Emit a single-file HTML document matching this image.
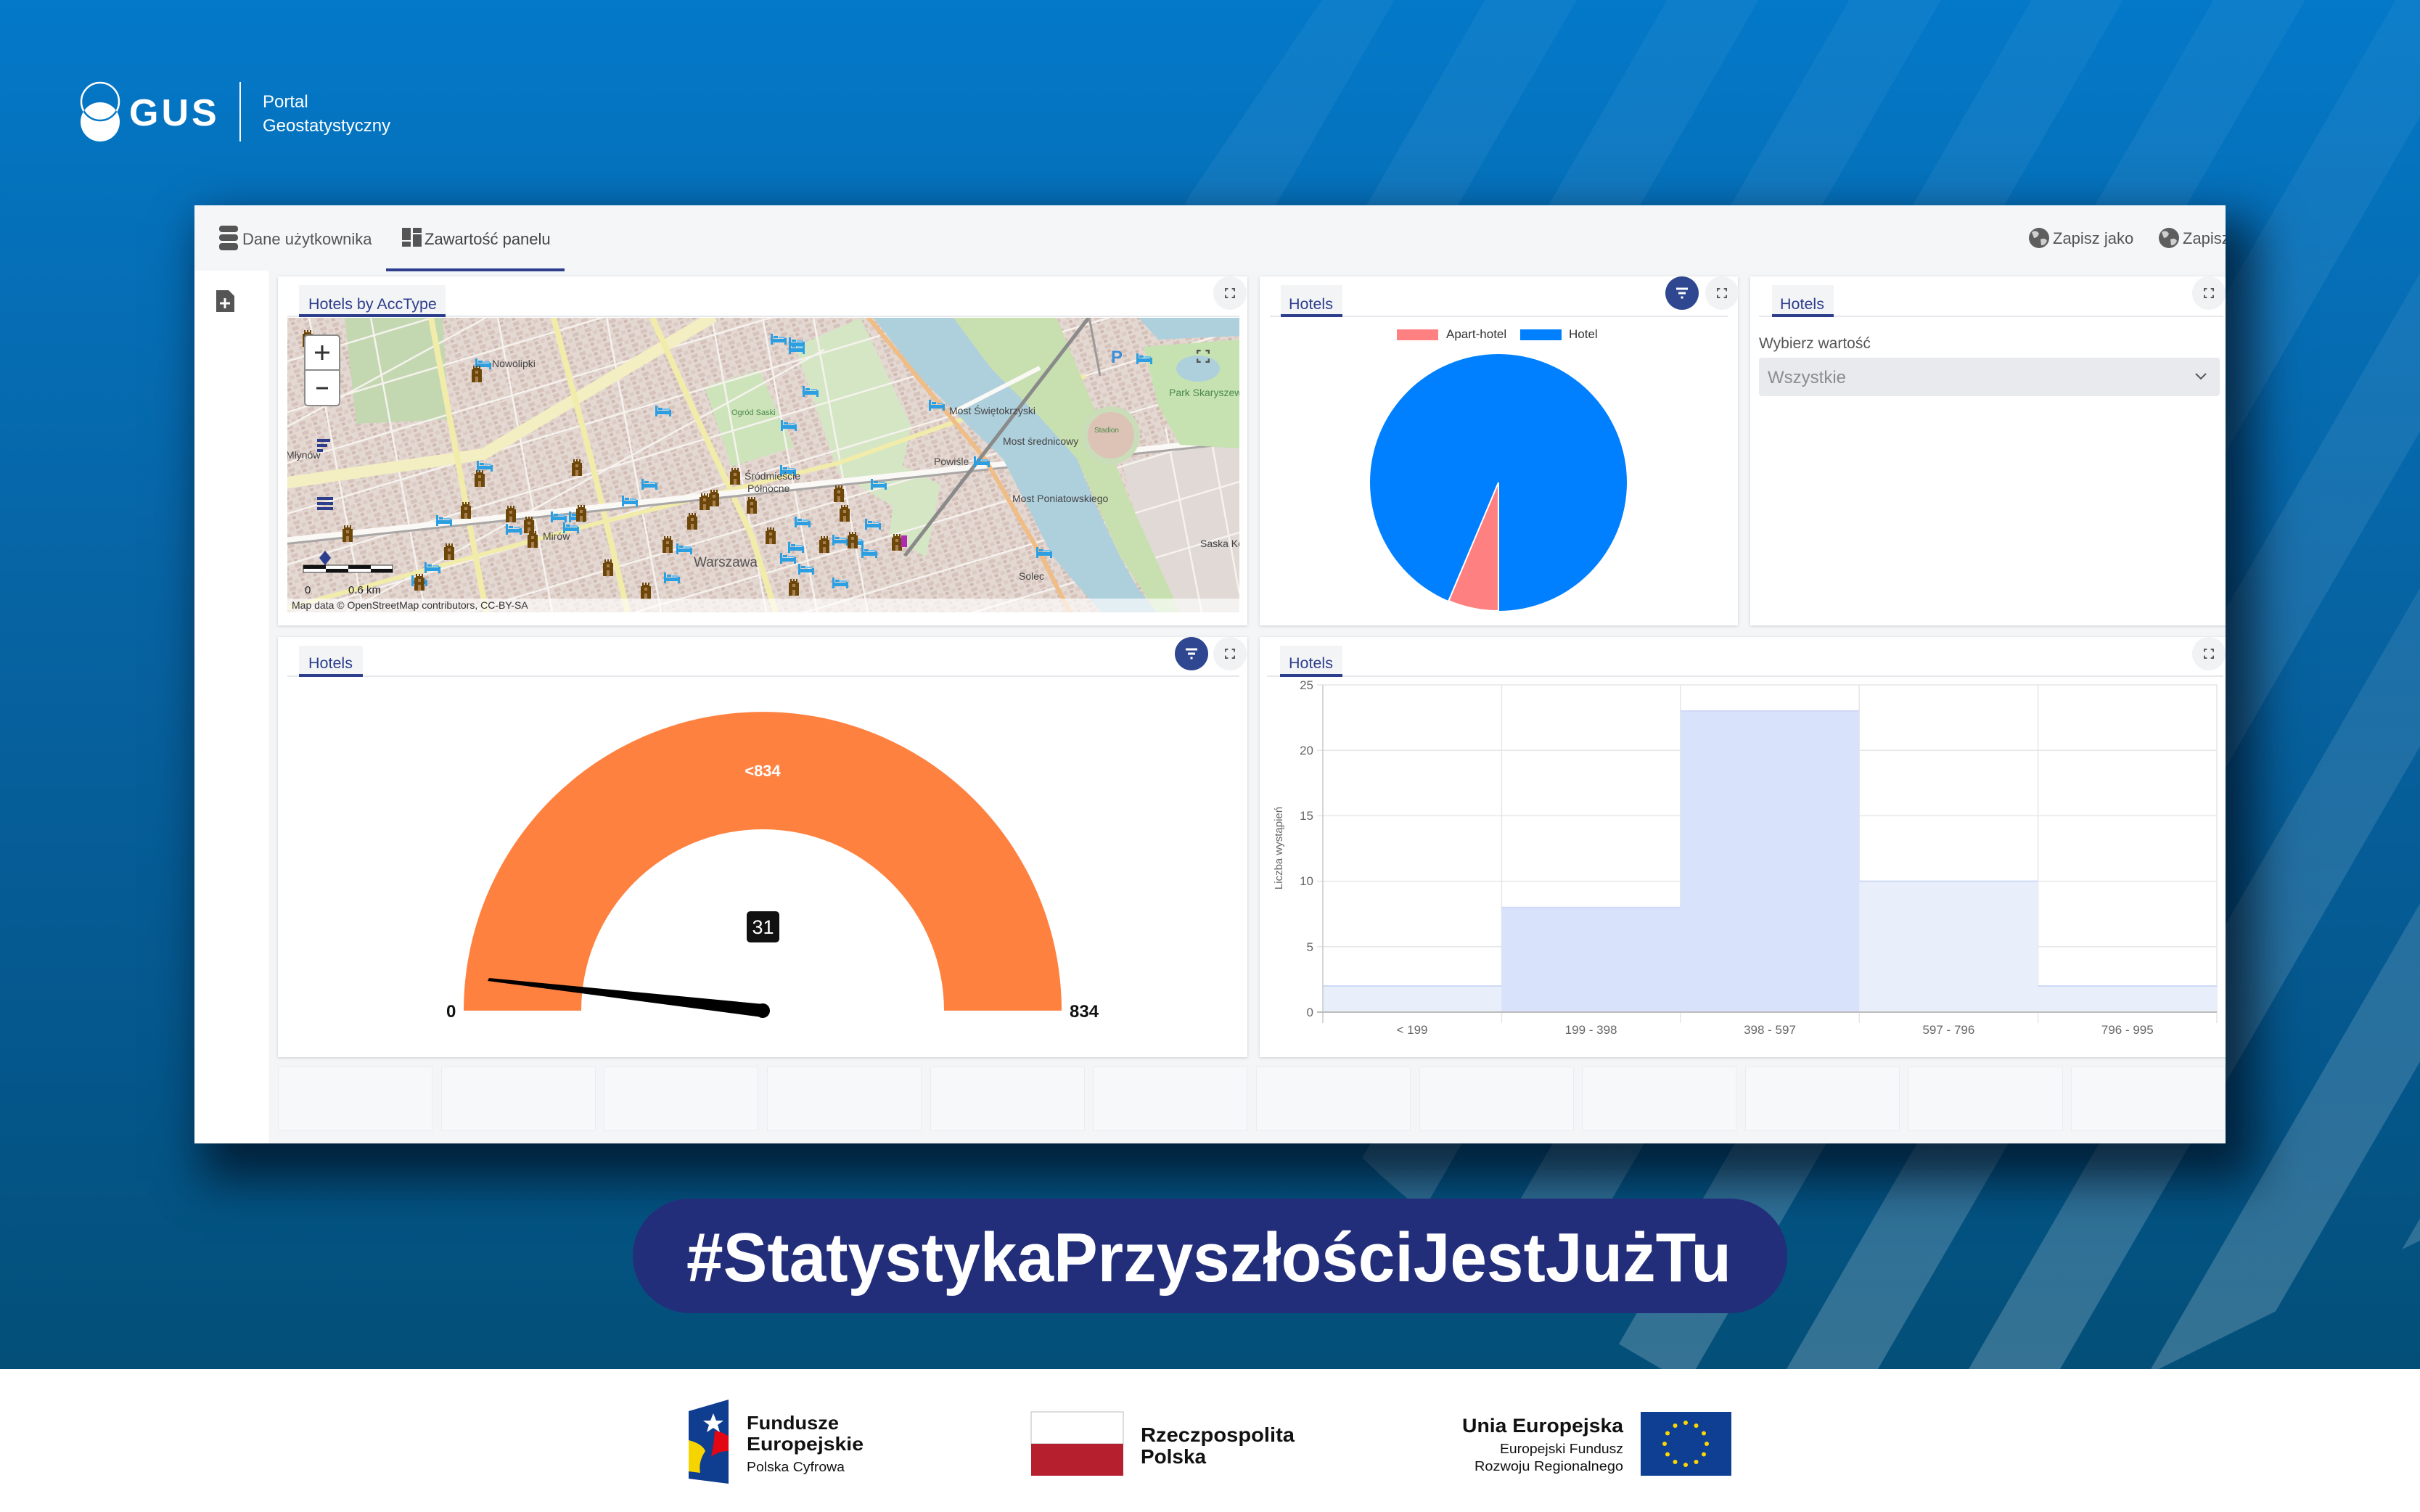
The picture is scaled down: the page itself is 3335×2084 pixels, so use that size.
<!DOCTYPE html>
<html><head><meta charset="utf-8">
<style>
html,body{margin:0;padding:0;}
body{width:3335px;height:2084px;position:relative;overflow:hidden;background:#fff;font-family:"Liberation Sans",sans-serif;}
.abs{position:absolute;}
#bg{left:0;top:0;width:3335px;height:1887px;background:linear-gradient(to bottom,#0479c9 0%,#0571bb 15%,#0763a2 45%,#04568a 80%,#034f78 100%);}
#panel{left:268px;top:283px;width:2799px;height:1293px;background:#f4f5f7;box-shadow:25px 35px 60px 15px rgba(0,12,25,0.7);overflow:hidden;}
.card{position:absolute;background:#fff;box-shadow:0 1px 4px rgba(0,0,0,0.16);}
.box{position:absolute;top:1187px;height:87px;width:211px;background:#f7f8fa;border:1px solid #eaecef;}
</style></head><body>
<div id="bg" class="abs"></div>
<svg class="abs" style="left:0;top:0" width="3335" height="1887">
<defs>
<linearGradient id="sg" x1="0" y1="0" x2="0" y2="1887" gradientUnits="userSpaceOnUse">
<stop offset="0" stop-color="#fff" stop-opacity="0.04"/><stop offset="0.5" stop-color="#fff" stop-opacity="0.09"/><stop offset="1" stop-color="#fff" stop-opacity="0.2"/></linearGradient>
<clipPath id="sc"><path d="M1822 0 L3335 0 L3335 1710 Q3150 1800 2975 1887 L2290 1887 Q2000 1720 1872 1590 L1700 900 L1630 283 Z"/></clipPath>
</defs>
<g clip-path="url(#sc)" fill="url(#sg)">
<polygon points="1795.6,0 1921.6,0 831,1887 705,1887"/>
<polygon points="2046.6,0 2172.6,0 1082,1887 956,1887"/>
<polygon points="2297.6,0 2423.6,0 1333,1887 1207,1887"/>
<polygon points="2548.6,0 2674.6,0 1584,1887 1458,1887"/>
<polygon points="2799.6,0 2925.6,0 1835,1887 1709,1887"/>
<polygon points="3050.6,0 3176.6,0 2086,1887 1960,1887"/>
<polygon points="3301.6,0 3427.6,0 2337,1887 2211,1887"/>
<polygon points="3552.6,0 3678.6,0 2588,1887 2462,1887"/>
<polygon points="3803.6,0 3929.6,0 2839,1887 2713,1887"/>
<polygon points="4054.6,0 4180.6,0 3090,1887 2964,1887"/>
<polygon points="4305.6,0 4431.6,0 3341,1887 3215,1887"/>
</g>
</svg>

<div id="panel" class="abs">
  <div class="abs" style="left:0;top:0;width:2799px;height:90px;background:#f5f6f8;"></div>
  <div class="abs" style="left:0;top:90px;width:102px;height:1203px;background:#fff;"></div>
  <div class="card" style="left:115px;top:98px;width:1336px;height:481px;"></div>
  <div class="card" style="left:1468px;top:98px;width:659px;height:481px;"></div>
  <div class="card" style="left:2144px;top:98px;width:670px;height:481px;"></div>
  <div class="card" style="left:115px;top:595px;width:1336px;height:579px;"></div>
  <div class="card" style="left:1468px;top:595px;width:1345px;height:579px;"></div>
  <div class="box" style="left:115px"></div>
  <div class="box" style="left:340px"></div>
  <div class="box" style="left:564px"></div>
  <div class="box" style="left:789px"></div>
  <div class="box" style="left:1014px"></div>
  <div class="box" style="left:1238px"></div>
  <div class="box" style="left:1463px"></div>
  <div class="box" style="left:1688px"></div>
  <div class="box" style="left:1912px"></div>
  <div class="box" style="left:2137px"></div>
  <div class="box" style="left:2362px"></div>
  <div class="box" style="left:2586px"></div>
</div>

<svg class="abs" style="left:0;top:0" width="3335" height="2084" font-family="Liberation Sans, sans-serif">
<defs>
<clipPath id="lowc"><circle cx="138" cy="168" r="27"/></clipPath>
<clipPath id="mapclip"><rect x="0" y="0" width="1312" height="406"/></clipPath>
<clipPath id="panelclip"><rect x="268" y="283" width="2799" height="1293"/></clipPath>
<pattern id="bld" width="18" height="14" patternUnits="userSpaceOnUse" patternTransform="rotate(-20)">
<rect x="1" y="1" width="9" height="5" fill="#d6c3bb"/><rect x="11" y="7" width="6" height="5" fill="#dccbc4"/><rect x="2" y="8" width="5" height="4" fill="#cfbab2"/></pattern>
<symbol id="bed" viewBox="0 0 24 18"><rect x="1" y="2" width="3" height="15" fill="#2b9fe2"/><rect x="20" y="8" width="3" height="9" fill="#2b9fe2"/><rect x="2" y="9" width="20" height="5" fill="#2b9fe2"/><rect x="5" y="5" width="6" height="3" fill="#2b9fe2"/><rect x="12" y="6" width="9" height="2" fill="#6cc0ef"/></symbol>
<symbol id="castle" viewBox="0 0 18 26"><path d="M2 26 V8 H4 V3 H6 V6 H8 V3 H10 V6 H12 V3 H14 V8 H16 V26 Z" fill="#6d4709"/><rect x="7" y="18" width="4" height="8" fill="#a88050"/><rect x="7" y="10" width="4" height="4" fill="#a88050"/></symbol>
<symbol id="exp" viewBox="0 0 16 16"><path d="M1 5 V1 H5 M11 1 H15 V5 M15 11 V15 H11 M5 15 H1 V11" fill="none" stroke="#555" stroke-width="2.2"/></symbol>
</defs>

<!-- GUS logo -->
<circle cx="138" cy="168" r="27" fill="#fff"/>
<circle cx="138" cy="140" r="26" fill="none" stroke="#fff" stroke-width="2.5"/>
<circle cx="138" cy="140" r="26" fill="none" stroke="#0477c6" stroke-width="2.5" clip-path="url(#lowc)"/>
<text x="178" y="173" font-size="52" font-weight="bold" letter-spacing="4" fill="#fff">GUS</text>
<line x1="331" y1="113" x2="331" y2="195" stroke="#fff" stroke-width="2"/>
<text x="362" y="148" font-size="24" fill="#fff">Portal</text>
<text x="362" y="181" font-size="24" fill="#fff">Geostatystyczny</text>

<!-- top bar -->
<g fill="#555">
<rect x="302" y="311" width="26" height="9" rx="4"/><rect x="302" y="323" width="26" height="9" rx="4"/><rect x="302" y="335" width="26" height="10" rx="4"/>
<rect x="554" y="314" width="12" height="17"/><rect x="554" y="333" width="12" height="7"/><rect x="569" y="314" width="12" height="7"/><rect x="569" y="323" width="12" height="17"/>
</g>
<text x="334" y="337" font-size="22" fill="#555">Dane użytkownika</text>
<text x="585" y="337" font-size="22" fill="#444">Zawartość panelu</text>
<rect x="532" y="370" width="246" height="4" fill="#2d3e8c"/>
<g clip-path="url(#panelclip)">
<circle cx="2810" cy="328" r="14" fill="#5e5e5e"/><path d="M2800 320 q6 -4 10 2 q-2 6 -7 6 z M2812 330 q6 -3 9 2 q-3 7 -8 6 z" fill="#cfcfcf"/>
<text x="2829" y="336" font-size="22" fill="#555">Zapisz jako</text>
<circle cx="2989" cy="328" r="14" fill="#5e5e5e"/><path d="M2979 320 q6 -4 10 2 q-2 6 -7 6 z M2991 330 q6 -3 9 2 q-3 7 -8 6 z" fill="#cfcfcf"/>
<text x="3008" y="336" font-size="22" fill="#555">Zapisz</text>
</g>
<!-- sidebar icon -->
<path d="M298 400 H315 L323 408 V430 H298 Z" fill="#555"/>
<path d="M310 411 V425 M303 418 H317" stroke="#fff" stroke-width="3"/>

<!-- tabs -->
<g font-size="21.5" fill="#2d3e8c">
<rect x="412" y="393" width="202" height="43" fill="#f3f4f6"/>
<rect x="396" y="435" width="1312" height="2" fill="#e6e8eb"/>
<rect x="412" y="433" width="202" height="4" fill="#2d3e8c"/>
<text x="425" y="426">Hotels by AccType</text>

<rect x="1765" y="393" width="85" height="43" fill="#f3f4f6"/>
<rect x="1750" y="435" width="631" height="2" fill="#e6e8eb"/>
<rect x="1765" y="433" width="85" height="4" fill="#2d3e8c"/>
<text x="1776" y="426">Hotels</text>

<rect x="2442" y="393" width="85" height="43" fill="#f3f4f6"/>
<rect x="2424" y="435" width="640" height="2" fill="#e6e8eb"/>
<rect x="2442" y="433" width="85" height="4" fill="#2d3e8c"/>
<text x="2453" y="426">Hotels</text>

<rect x="412" y="890" width="88" height="43" fill="#f3f4f6"/>
<rect x="396" y="931" width="1312" height="2" fill="#e6e8eb"/>
<rect x="412" y="929" width="88" height="4" fill="#2d3e8c"/>
<text x="425" y="921">Hotels</text>

<rect x="1764" y="890" width="86" height="43" fill="#f3f4f6"/>
<rect x="1746" y="931" width="1318" height="2" fill="#e6e8eb"/>
<rect x="1764" y="929" width="86" height="4" fill="#2d3e8c"/>
<text x="1776" y="921">Hotels</text>
</g>

<!-- buttons -->
<g clip-path="url(#panelclip)">
<circle cx="1695" cy="404" r="23" fill="#f1f2f4"/><use href="#exp" x="1688" y="397" width="14" height="14"/>
<circle cx="2373" cy="404" r="23" fill="#f1f2f4"/><use href="#exp" x="2366" y="397" width="14" height="14"/>
<circle cx="3044" cy="404" r="23" fill="#f1f2f4"/><use href="#exp" x="3037" y="397" width="14" height="14"/>
<circle cx="1695" cy="901" r="23" fill="#f1f2f4"/><use href="#exp" x="1688" y="894" width="14" height="14"/>
<circle cx="3044" cy="901" r="23" fill="#f1f2f4"/><use href="#exp" x="3037" y="894" width="14" height="14"/>
</g>
<circle cx="2318" cy="404" r="23" fill="#2f4790"/>
<g stroke="#fff" stroke-width="3"><line x1="2310" y1="398" x2="2326" y2="398"/><line x1="2313" y1="404" x2="2323" y2="404"/><line x1="2316.5" y1="410" x2="2319.5" y2="410"/></g>
<circle cx="1642" cy="901" r="23" fill="#2f4790"/>
<g stroke="#fff" stroke-width="3"><line x1="1634" y1="895" x2="1650" y2="895"/><line x1="1637" y1="901" x2="1647" y2="901"/><line x1="1640.5" y1="907" x2="1643.5" y2="907"/></g>

<!-- MAP -->
<g transform="translate(396,438)" clip-path="url(#mapclip)">
<rect width="1312" height="406" fill="#e4d8d2"/>
<rect width="1312" height="406" fill="url(#bld)"/>
<polygon points="79,0 214,0 222,140 95,146" fill="#c3d8b0"/>
<polygon points="575,95 650,72 698,178 612,205" fill="#cde4bb"/>
<polygon points="700,40 790,0 860,150 835,260 760,215" fill="#d4e6c4"/>
<polygon points="840,200 900,230 880,330 830,300" fill="#d4e6c4"/>
<polygon points="1150,200 1312,160 1312,406 1205,406" fill="#e0d9d6"/>
<g stroke="#f6f2ee" stroke-width="2.5">
<line x1="30" y1="0" x2="105" y2="406"/><line x1="115" y1="0" x2="190" y2="406"/><line x1="290" y1="0" x2="365" y2="406"/>
<line x1="440" y1="0" x2="515" y2="406"/><line x1="585" y1="0" x2="660" y2="406"/><line x1="655" y1="0" x2="730" y2="406"/>
<line x1="725" y1="0" x2="800" y2="406"/><line x1="1210" y1="150" x2="1260" y2="406"/><line x1="1270" y1="150" x2="1312" y2="380"/>
<line x1="0" y1="60" x2="1312" y2="-334"/><line x1="0" y1="130" x2="1312" y2="-264"/><line x1="0" y1="200" x2="1312" y2="-194"/>
<line x1="0" y1="270" x2="1312" y2="-124"/><line x1="0" y1="340" x2="1312" y2="-54"/><line x1="0" y1="410" x2="1312" y2="16"/>
<line x1="0" y1="480" x2="1312" y2="86"/><line x1="0" y1="550" x2="1312" y2="156"/><line x1="0" y1="620" x2="1312" y2="226"/>
<line x1="0" y1="690" x2="1312" y2="296"/><line x1="0" y1="150" x2="740" y2="-256"/><line x1="0" y1="450" x2="740" y2="44"/>
</g>
<g fill="none" stroke-linejoin="round">
<path d="M-6 228 L270 188 L588 -2" stroke="#f3efc2" stroke-width="16"/>
<line x1="198" y1="0" x2="274" y2="406" stroke="#f1ecaa" stroke-width="8"/>
<path d="M367 0 L420 200 L469 406" stroke="#f1ecaa" stroke-width="8"/>
<path d="M503 0 L570 150 L640 300 L673 406" stroke="#f1ecaa" stroke-width="8"/>
<path d="M0 400 L400 290 L760 200 L1100 80" stroke="#f1ecaa" stroke-width="6"/>
<line x1="-6" y1="308" x2="1324" y2="167" stroke="#fbf9f6" stroke-width="10"/>
<line x1="-6" y1="312" x2="1324" y2="171" stroke="#a9a6a6" stroke-width="3"/>
</g>
<polygon points="918,0 1060,0 1110,120 1160,250 1230,406 1198,406 1147,328 1088,194 970,70" fill="#c8e0b0"/>
<polygon points="1180,40 1312,30 1312,180 1230,175 1200,120" fill="#c5e2b0"/>
<ellipse cx="1255" cy="70" rx="30" ry="18" fill="#aed0dc"/>
<polygon points="1173,0 1312,0 1312,25 1200,30" fill="#aed0dc"/>
<polygon points="808,0 870,80 940,150 986,194 1020,260 1054,328 1090,370 1122,406 1198,406 1170,370 1147,328 1115,260 1088,194 1040,140 970,70 918,0" fill="#aed0dc"/>
<path d="M800 -1 L900 120 L961 194 L1040 330 L1080 409" fill="none" stroke="#efbd85" stroke-width="6"/>
<line x1="918" y1="130" x2="1037" y2="69" stroke="#fbf9f6" stroke-width="6"/>
<line x1="851" y1="328" x2="1105" y2="-1" stroke="#8a8a8a" stroke-width="5"/>
<line x1="1105" y1="-1" x2="1120" y2="80" stroke="#9a9a9a" stroke-width="3"/>
<circle cx="1135" cy="162" r="36" fill="#dcc3b5" stroke="#c9ddb9" stroke-width="8"/>
<!-- icons -->
<g>
<use href="#bed" x="665" y="20" width="24" height="18"/><use href="#bed" x="690" y="25" width="24" height="18"/><use href="#bed" x="690" y="33" width="24" height="18"/>
<use href="#bed" x="258" y="54" width="24" height="18"/><use href="#bed" x="709" y="92" width="24" height="18"/><use href="#bed" x="506" y="119" width="24" height="18"/>
<use href="#bed" x="679" y="139" width="24" height="18"/><use href="#bed" x="883" y="111" width="24" height="18"/><use href="#bed" x="945" y="189" width="24" height="18"/>
<use href="#bed" x="260" y="195" width="24" height="18"/><use href="#bed" x="678" y="201" width="24" height="18"/><use href="#bed" x="487" y="220" width="24" height="18"/>
<use href="#bed" x="803" y="220" width="24" height="18"/><use href="#bed" x="460" y="243" width="24" height="18"/><use href="#bed" x="362" y="265" width="24" height="18"/>
<use href="#bed" x="387" y="265" width="24" height="18"/><use href="#bed" x="379" y="280" width="24" height="18"/><use href="#bed" x="300" y="282" width="24" height="18"/>
<use href="#bed" x="204" y="270" width="24" height="18"/><use href="#bed" x="698" y="272" width="24" height="18"/><use href="#bed" x="795" y="275" width="24" height="18"/>
<use href="#bed" x="689" y="307" width="24" height="18"/><use href="#bed" x="750" y="297" width="24" height="18"/><use href="#bed" x="771" y="299" width="24" height="18"/>
<use href="#bed" x="790" y="314" width="24" height="18"/><use href="#bed" x="535" y="309" width="24" height="18"/><use href="#bed" x="678" y="322" width="24" height="18"/>
<use href="#bed" x="703" y="337" width="24" height="18"/><use href="#bed" x="188" y="335" width="24" height="18"/><use href="#bed" x="170" y="353" width="24" height="18"/>
<use href="#bed" x="518" y="349" width="24" height="18"/><use href="#bed" x="750" y="356" width="24" height="18"/><use href="#bed" x="1031" y="314" width="24" height="18"/>
<use href="#bed" x="1169" y="47" width="24" height="18"/>
<use href="#castle" x="19" y="14" width="18" height="26"/><use href="#castle" x="252" y="63" width="18" height="26"/><use href="#castle" x="390" y="192" width="18" height="26"/>
<use href="#castle" x="256" y="207" width="18" height="26"/><use href="#castle" x="237" y="251" width="18" height="26"/><use href="#castle" x="299" y="256" width="18" height="26"/>
<use href="#castle" x="396" y="255" width="18" height="26"/><use href="#castle" x="324" y="271" width="18" height="26"/><use href="#castle" x="329" y="291" width="18" height="26"/>
<use href="#castle" x="74" y="283" width="18" height="26"/><use href="#castle" x="214" y="308" width="18" height="26"/><use href="#castle" x="608" y="204" width="18" height="26"/>
<use href="#castle" x="579" y="234" width="18" height="26"/><use href="#castle" x="566" y="239" width="18" height="26"/><use href="#castle" x="631" y="244" width="18" height="26"/>
<use href="#castle" x="549" y="266" width="18" height="26"/><use href="#castle" x="751" y="228" width="18" height="26"/><use href="#castle" x="759" y="255" width="18" height="26"/>
<use href="#castle" x="657" y="286" width="18" height="26"/><use href="#castle" x="731" y="298" width="18" height="26"/><use href="#castle" x="770" y="292" width="18" height="26"/>
<use href="#castle" x="831" y="295" width="18" height="26"/><use href="#castle" x="515" y="298" width="18" height="26"/><use href="#castle" x="433" y="330" width="18" height="26"/>
<use href="#castle" x="485" y="362" width="18" height="26"/><use href="#castle" x="689" y="357" width="18" height="26"/><use href="#castle" x="173" y="350" width="18" height="26"/>
<rect x="846" y="300" width="8" height="16" fill="#b02ab0"/>
</g>
<g font-size="14" fill="#444">
<text x="560" y="343" font-size="19" fill="#555">Warszawa</text>
<text x="912" y="133">Most Świętokrzyski</text>
<text x="986" y="175">Most średnicowy</text>
<text x="999" y="254">Most Poniatowskiego</text>
<text x="891" y="203">Powiśle</text>
<text x="352" y="306">Mirów</text>
<text x="1215" y="108" fill="#4a8a4a">Park Skaryszew</text>
<text x="1258" y="316">Saska Kę</text>
<text x="1008" y="361">Solec</text>
<text x="282" y="68">Nowolipki</text>
<text x="-2" y="194">Młynów</text>
<text x="630" y="223">Śródmieście</text>
<text x="634" y="240">Północne</text>
<text x="612" y="134" font-size="11" fill="#4a8a4a">Ogród Saski</text>
<text x="1112" y="158" font-size="10" fill="#4a8a4a">Stadion</text>
</g>
<text x="1135" y="62" font-size="24" font-weight="bold" fill="#3b8ed8">P</text>
<use href="#exp" x="1253" y="44" width="18" height="18"/>
<rect x="24" y="24" width="48" height="97" rx="4" fill="#fff" stroke="#8a8a8a" stroke-width="2"/>
<line x1="24" y1="72" x2="72" y2="72" stroke="#8a8a8a" stroke-width="2"/>
<path d="M48 38 V58 M38 48 H58" stroke="#333" stroke-width="3"/>
<path d="M40 97 H56" stroke="#333" stroke-width="3"/>
<g fill="#2d3e8c"><rect x="41" y="167" width="18" height="4"/><rect x="41" y="174" width="14" height="4"/><rect x="41" y="181" width="8" height="4"/>
<rect x="41" y="247" width="22" height="4"/><rect x="41" y="254" width="22" height="4"/><rect x="41" y="261" width="22" height="4"/>
<polygon points="52,321 60,331 52,341 44,331"/></g>
<rect x="22" y="341" width="123" height="10" fill="#fff" stroke="#333" stroke-width="1"/>
<rect x="22" y="341" width="31" height="5" fill="#111"/><rect x="84" y="341" width="31" height="5" fill="#111"/>
<rect x="53" y="346" width="31" height="5" fill="#111"/><rect x="115" y="346" width="30" height="5" fill="#111"/>
<text x="24" y="380" font-size="15" fill="#222">0</text><text x="84" y="380" font-size="15" fill="#222">0.6 km</text>
<rect x="0" y="387" width="1312" height="19" fill="#fff" fill-opacity="0.65"/>
<text x="6" y="401" font-size="14" fill="#333">Map data © OpenStreetMap contributors, CC-BY-SA</text>
</g>

<!-- PIE -->
<rect x="1925" y="454" width="57" height="15" fill="#ff8080"/>
<text x="1993" y="466" font-size="17" fill="#333">Apart-hotel</text>
<rect x="2095" y="454" width="57" height="15" fill="#0080ff"/>
<text x="2162" y="466" font-size="17" fill="#333">Hotel</text>
<circle cx="2065" cy="665" r="177" fill="#0080ff"/>
<path d="M2065 665 L2065 842 A177 177 0 0 1 1996.3 828.2 Z" fill="#ff8080" stroke="#fff" stroke-width="2"/>

<!-- select -->
<text x="2424" y="480" font-size="21" fill="#555">Wybierz wartość</text>
<rect x="2424" y="493" width="635" height="53" rx="4" fill="#e8eaed"/>
<text x="2436" y="528" font-size="24" fill="#8c8c8c">Wszystkie</text>
<path d="M3026 515 L3033 522 L3040 515" fill="none" stroke="#555" stroke-width="2"/>

<!-- GAUGE -->
<path d="M639 1393 A412 412 0 0 1 1463 1393 L1301 1393 A250 250 0 0 0 801 1393 Z" fill="#ff8140"/>
<text x="1051" y="1070" font-size="22" font-weight="bold" fill="#fff" text-anchor="middle">&lt;834</text>
<rect x="1029" y="1256" width="45" height="43" rx="5" fill="#111"/>
<text x="1051.5" y="1287" font-size="27" fill="#fff" text-anchor="middle">31</text>
<polygon points="674,1348 1052,1384 1050,1402 672,1352" fill="#000"/>
<circle cx="1051" cy="1393" r="10" fill="#000"/>
<text x="615" y="1402" font-size="24" font-weight="bold" fill="#111">0</text>
<text x="1474" y="1402" font-size="24" font-weight="bold" fill="#111">834</text>

<!-- HISTOGRAM -->
<g stroke="#e6e6e6" stroke-width="1.5">
<line x1="1815" y1="944" x2="3055" y2="944"/><line x1="1815" y1="1034.2" x2="3055" y2="1034.2"/>
<line x1="1815" y1="1124.4" x2="3055" y2="1124.4"/><line x1="1815" y1="1214.6" x2="3055" y2="1214.6"/>
<line x1="1815" y1="1304.8" x2="3055" y2="1304.8"/>
<line x1="2069.4" y1="944" x2="2069.4" y2="1410"/><line x1="2315.8" y1="944" x2="2315.8" y2="1410"/>
<line x1="2562.2" y1="944" x2="2562.2" y2="1410"/><line x1="2808.6" y1="944" x2="2808.6" y2="1410"/>
<line x1="3055" y1="944" x2="3055" y2="1410"/>
</g>
<rect x="1823" y="1359" width="246.4" height="36" fill="#e9eefb"/>
<rect x="2069.4" y="1250.7" width="246.4" height="144.3" fill="#d9e2fb"/>
<rect x="2315.8" y="980" width="246.4" height="415" fill="#d9e2fb"/>
<rect x="2562.2" y="1214.6" width="246.4" height="180.4" fill="#e9eefb"/>
<rect x="2808.6" y="1359" width="246.4" height="36" fill="#e9eefb"/>
<g stroke="#cfd9f6" stroke-width="2">
<line x1="1823" y1="1359" x2="2069.4" y2="1359"/><line x1="2069.4" y1="1250.7" x2="2315.8" y2="1250.7"/>
<line x1="2315.8" y1="980" x2="2562.2" y2="980"/><line x1="2562.2" y1="1214.6" x2="2808.6" y2="1214.6"/>
<line x1="2808.6" y1="1359" x2="3055" y2="1359"/>
</g>
<line x1="1823" y1="944" x2="1823" y2="1410" stroke="#c8c8c8" stroke-width="1.5"/>
<line x1="1815" y1="1395" x2="3055" y2="1395" stroke="#bdbdbd" stroke-width="2"/>
<g font-size="17" fill="#666" text-anchor="end">
<text x="1810" y="950">25</text><text x="1810" y="1040">20</text><text x="1810" y="1130">15</text>
<text x="1810" y="1220">10</text><text x="1810" y="1311">5</text><text x="1810" y="1401">0</text>
</g>
<g font-size="17" fill="#666" text-anchor="middle">
<text x="1946" y="1425">&lt; 199</text><text x="2192.6" y="1425">199 - 398</text><text x="2439" y="1425">398 - 597</text>
<text x="2685.4" y="1425">597 - 796</text><text x="2931.8" y="1425">796 - 995</text>
</g>
<text transform="translate(1767,1169) rotate(-90)" font-size="15" fill="#666" text-anchor="middle">Liczba wystąpień</text>

<!-- PILL -->
<rect x="872" y="1652" width="1591" height="158" rx="79" fill="#232e7a"/>
<text x="946" y="1766" font-size="96" font-weight="bold" fill="#fff" textLength="1440" lengthAdjust="spacingAndGlyphs">#StatystykaPrzyszłościJestJużTu</text>

<!-- FOOTER -->
<polygon points="949,1945 1004,1929 1004,2045 949,2038" fill="#0f3d8f"/>
<polygon points="983,1948 987,1958 997,1958 989,1964 992,1974 983,1968 974,1974 977,1964 969,1958 979,1958" fill="#fff"/>
<path d="M949 1985 Q968 1990 972 2000 Q962 2015 965 2030 L949 2028 Z" fill="#f6d400"/>
<path d="M985 1972 Q1000 1975 1004 1980 L1004 2000 Q990 2000 980 2008 Q984 1990 985 1972 Z" fill="#e30613"/>
<text x="1029" y="1970" font-size="26" font-weight="bold" fill="#111" textLength="127" lengthAdjust="spacingAndGlyphs">Fundusze</text>
<text x="1029" y="1999" font-size="26" font-weight="bold" fill="#111" textLength="161" lengthAdjust="spacingAndGlyphs">Europejskie</text>
<text x="1029" y="2028" font-size="18" fill="#111" textLength="135" lengthAdjust="spacingAndGlyphs">Polska Cyfrowa</text>
<rect x="1421" y="1946" width="127" height="44" fill="#fff" stroke="#bbb" stroke-width="1"/>
<rect x="1421" y="1990" width="127" height="44" fill="#b51f2e"/>
<text x="1572" y="1987" font-size="28" font-weight="bold" fill="#111" textLength="212" lengthAdjust="spacingAndGlyphs">Rzeczpospolita</text>
<text x="1572" y="2017" font-size="28" font-weight="bold" fill="#111" textLength="90" lengthAdjust="spacingAndGlyphs">Polska</text>
<text x="2015" y="1974" font-size="27" font-weight="bold" fill="#111" textLength="222" lengthAdjust="spacingAndGlyphs">Unia Europejska</text>
<text x="2067" y="2003" font-size="18" fill="#111" textLength="170" lengthAdjust="spacingAndGlyphs">Europejski Fundusz</text>
<text x="2032" y="2027" font-size="18" fill="#111" textLength="205" lengthAdjust="spacingAndGlyphs">Rozwoju Regionalnego</text>
<rect x="2261" y="1946" width="125" height="88" fill="#0e3f93"/>
<g fill="#ffd700">
<circle cx="2323" cy="1961" r="3"/><circle cx="2337.5" cy="1965" r="3"/><circle cx="2348" cy="1975.5" r="3"/>
<circle cx="2352" cy="1990" r="3"/><circle cx="2348" cy="2004.5" r="3"/><circle cx="2337.5" cy="2015" r="3"/>
<circle cx="2323" cy="2019" r="3"/><circle cx="2308.5" cy="2015" r="3"/><circle cx="2298" cy="2004.5" r="3"/>
<circle cx="2294" cy="1990" r="3"/><circle cx="2298" cy="1975.5" r="3"/><circle cx="2308.5" cy="1965" r="3"/>
</g>
</svg>
</body></html>
